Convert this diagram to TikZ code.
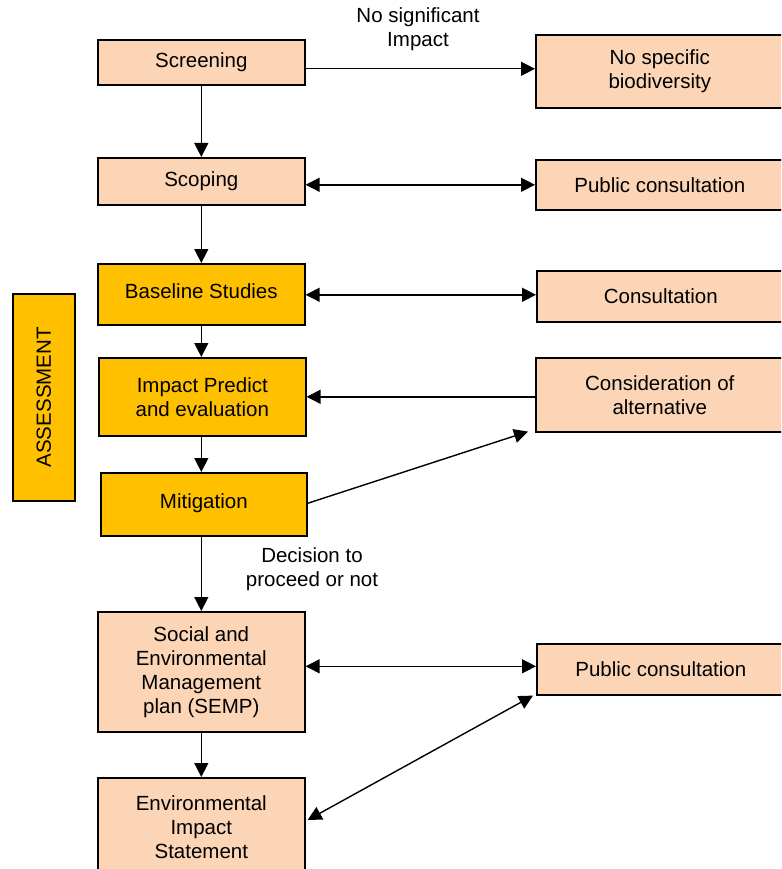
\documentclass[tikz,border=0pt]{standalone}
\usepackage{fontspec}
\setmainfont{Liberation Sans}
\usetikzlibrary{arrows.meta,calc}
\definecolor{peach}{HTML}{FBD5B5}
\definecolor{amber}{HTML}{FFC000}
\tikzset{
  box/.style={draw=black, line width=1.6pt, fill=peach, inner sep=0pt, align=center,
    anchor=north west, font=\fontsize{20.5}{24}\selectfont},
  obox/.style={box, fill=amber},
  lbl/.style={align=center, font=\fontsize{20.5}{24}\selectfont, inner sep=0pt},
  arr/.style={line width=1.4pt, -{Triangle[length=14pt,width=14pt]}},
  darr/.style={line width=1.4pt, {Triangle[length=14pt,width=14pt]}-{Triangle[length=14pt,width=14pt]}},
}
\begin{document}
\begin{tikzpicture}[x=1pt,y=-1pt]
\clip (0,0) rectangle (781,869);
\fill[white] (0,0) rectangle (781,869);
% left column
\node[box, minimum width=207pt, minimum height=45pt] (scr) at (97,39) {\raisebox{-1.5pt}{Screening}};
\node[box, minimum width=207pt, minimum height=47pt] (scop) at (97,157) {\raisebox{-1.5pt}{Scoping}};
\node[obox, minimum width=207pt, minimum height=61pt] (base) at (97,263) {\raisebox{6pt}{Baseline Studies}};
\node[obox, minimum width=207pt, minimum height=78pt] (imp) at (98,357) {Impact Predict\\and evaluation};
\node[obox, minimum width=206pt, minimum height=63pt] (mit) at (100,472) {\raisebox{7pt}{Mitigation}};
\node[box, minimum width=207pt, minimum height=120pt] (semp) at (97,611) {Social and\\Environmental\\Management\\plan (SEMP)};
\node[box, minimum width=207pt, minimum height=98pt] (eis) at (97,777) {Environmental\\Impact\\Statement};
% assessment
\node[obox, minimum width=62pt, minimum height=207pt] (ass) at (12,293) {};
\node[lbl, rotate=90] (asst) at (ass.center) {ASSESSMENT};
% right column
\node[box, minimum width=248pt, minimum height=73pt] (nsb) at (535,34) {No specific\\biodiversity};
\node[box, minimum width=248pt, minimum height=50pt] (pc1) at (535,159) {Public consultation};
\node[box, minimum width=248pt, minimum height=51pt] (cons) at (536,270) {Consultation};
\node[box, minimum width=248pt, minimum height=74pt] (alt) at (535,357) {Consideration of\\alternative};
\node[box, minimum width=248pt, minimum height=51pt] (pc2) at (536,643) {Public consultation};
% labels
\node[lbl] (nsi) at (418,29) {No significant\\Impact};
\node[lbl] (dec) at (312,569) {Decision to\\proceed or not};
% connectors
\coordinate (p1) at ($(scr.east)+(0,6.5)$);
\draw[arr] (p1) -- (p1 -| nsb.west);
\draw[arr] (scr.south) -- (scr.south |- scop.north);
\draw[arr] (scop.south) -- (scop.south |- base.north);
\draw[arr] (base.south) -- (base.south |- imp.north);
\draw[arr] (base.south |- imp.south) -- (base.south |- mit.north);
\draw[arr] (base.south |- mit.south) -- (base.south |- semp.north);
\draw[arr] (semp.south) -- (eis.north);
\draw[darr] (scop.east |- pc1.west) -- (pc1.west);
\coordinate (p2) at ($(cons.west)+(0,-1.5)$);
\draw[darr] (base.east |- p2) -- (p2);
\draw[arr] (alt.west |- imp.east) -- (imp.east);
\coordinate (p3) at ($(alt.south west)+(-7,-1)$);
\draw[arr] ($(mit.east)+(0,-1)$) -- (p3);
\coordinate (p4) at ($(pc2.west)+(0,-3)$);
\draw[darr] (semp.east |- p4) -- (p4);
\coordinate (p5) at ($(eis.north east)+(2,43)$);
\coordinate (p6) at ($(pc2.south west)+(-3,0)$);
\draw[darr] (p5) -- (p6);
\end{tikzpicture}
\end{document}
